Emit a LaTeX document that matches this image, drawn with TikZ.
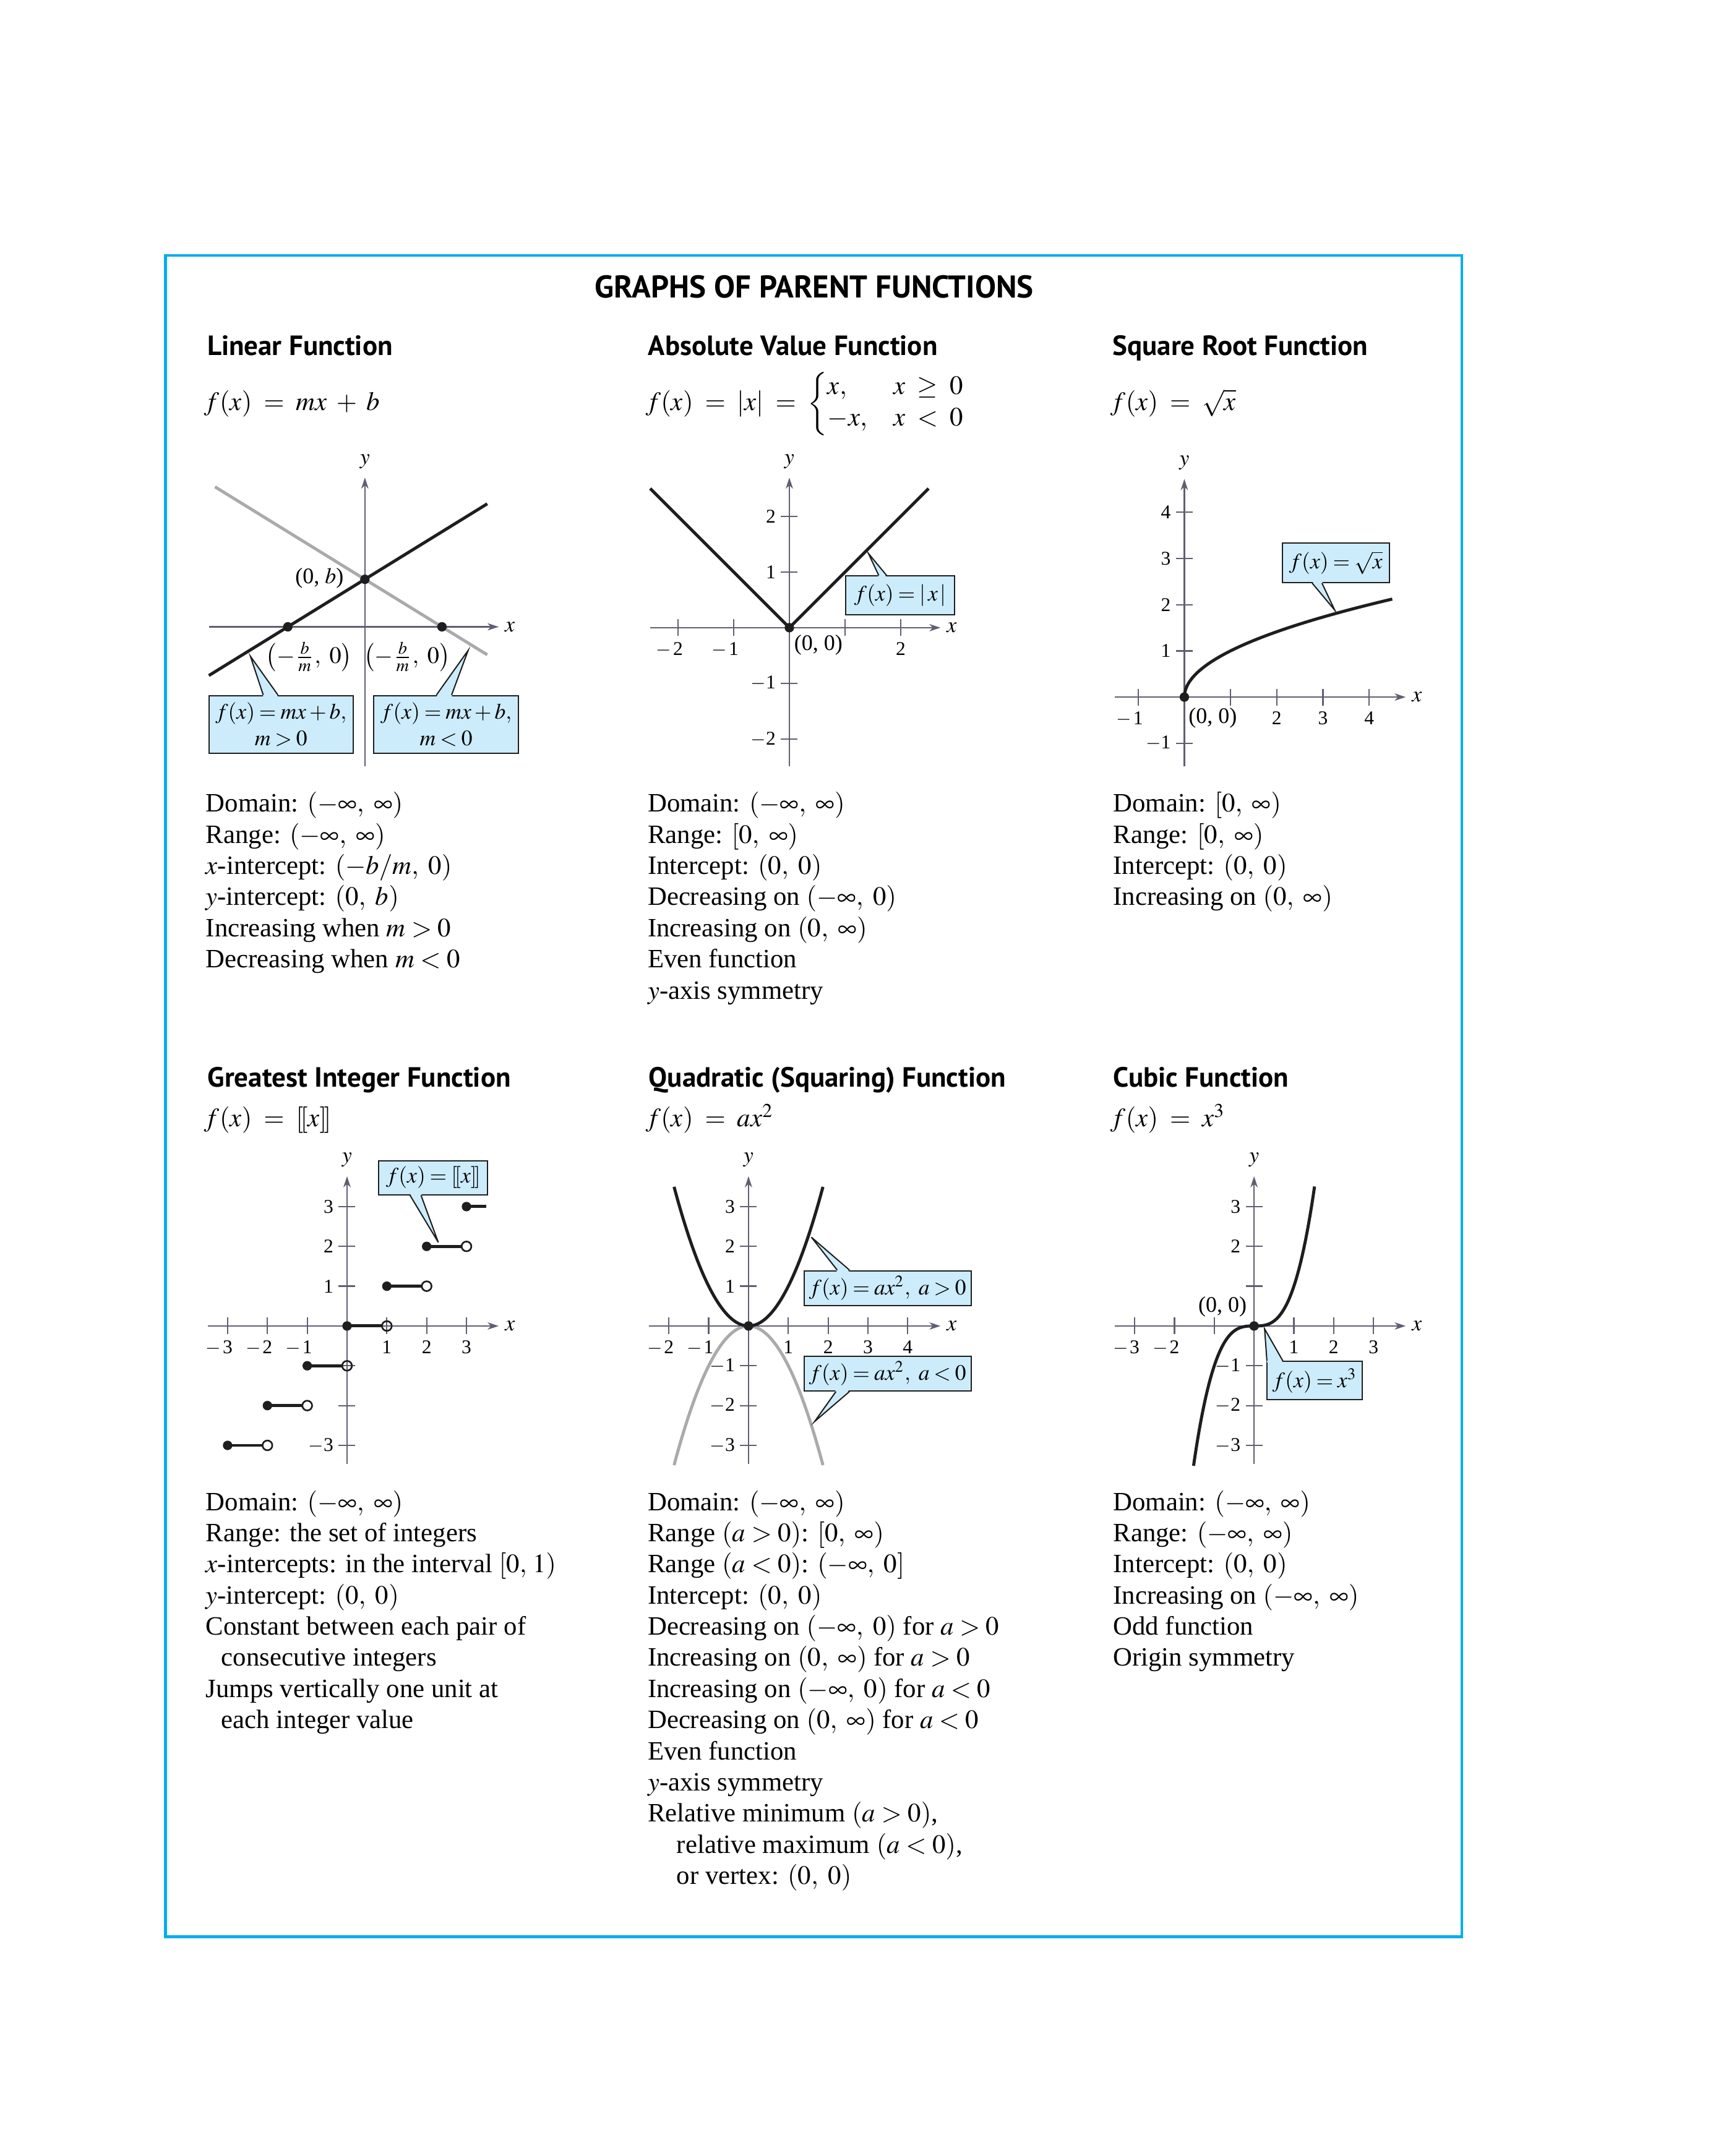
\documentclass[tikz,border=0pt]{standalone}
\usepackage{amsmath}
\usepackage{mathptmx}
\usepackage[no-math]{fontspec}
\setmainfont{Liberation Serif}
\newfontfamily\headfont{PT Sans}
\usetikzlibrary{arrows.meta,matrix}

\definecolor{framecol}{RGB}{0,174,239}
\definecolor{callfill}{RGB}{204,236,252}
\definecolor{axiscol}{RGB}{95,95,115}
\definecolor{greycol}{RGB}{170,170,170}
\definecolor{inkcol}{RGB}{30,30,30}

\tikzset{
  axisline/.style={draw=axiscol, line width=0.5pt},
  axisarrow/.style={axisline, -{Stealth[length=4pt,width=2.6pt,inset=1.2pt]}},
  axlab/.style={font=\fontsize{8}{9}\selectfont, inner sep=0.5pt},
  ticklab/.style={font=\fontsize{7}{8}\selectfont, inner sep=0pt},
  ptlab/.style={font=\fontsize{8}{9}\selectfont, inner sep=0pt},
  curve/.style={draw=inkcol, line width=1.1pt},
  greycurve/.style={draw=greycol, line width=1.1pt},
  dot/.style={fill=inkcol},
  opendot/.style={draw=inkcol, line width=0.6pt},
  callbox/.style={draw=inkcol, line width=0.45pt, fill=callfill, inner sep=0pt, align=center,
    font=\fontsize{7.9}{9.5}\selectfont},
  callline/.style={draw=inkcol, line width=0.45pt},
  heading/.style={font=\headfont\bfseries\fontsize{10}{12}\selectfont, anchor=base west, inner sep=0pt},
  formula/.style={font=\fontsize{9.5}{9.4}\selectfont, anchor=base west, inner sep=0pt},
  facts/.style={matrix of nodes, anchor=north west, inner sep=0pt, row sep=1.19pt,
    nodes={align=left, anchor=west, inner sep=0pt, text height=7.5pt, text depth=2.5pt,
      font=\fontsize{9.5}{11}\selectfont}},
}

\newcommand{\tightm}{\thickmuskip=3.5mu\relax\medmuskip=2.5mu\relax}
\newcommand{\mneg}[1]{\llap{$-$\kern0.6pt}#1}
\newcommand{\pfaxes}[5]{%
  \coordinate (#1xl) at (#2,0); \coordinate (#1xr) at (#3,0);
  \coordinate (#1yb) at (0,#4); \coordinate (#1yt) at (0,#5);
  \draw[axisarrow] (#1xl) -- (#1xr) node[axlab, right=1.5pt] (#1xn) {$x$};
  \draw[axisarrow] (#1yb) -- (#1yt) node[axlab, above=2.5pt] (#1yn) {$y$};}
\newcommand{\pfxticks}[1]{\foreach \t in {#1} \draw[axisline] (\t,0) ++(0pt,3pt) -- ++(0pt,-6pt);}
\newcommand{\pfyticks}[1]{\foreach \t in {#1} \draw[axisline] (0,\t) ++(3pt,0pt) -- ++(-6pt,0pt);}
\newcommand{\pfxlabs}[2]{\foreach \t/\l in {#2} \path (\t,0) ++(0pt,-5pt) node[ticklab, anchor=north] (#1x\t) {\l};}
\newcommand{\pfylabs}[2]{\foreach \t/\l in {#2} \path (0,\t) ++(-4.7pt,0pt) node[ticklab, anchor=east] (#1y\t) {\l};}
\newcommand{\pfpointer}[4]{%
  \fill[callfill] ([yshift=#4]#1) -- (#2) -- ([yshift=#4]#3) -- cycle;
  \draw[callline] (#1) -- (#2) -- (#3);}

\begin{document}
\begin{tikzpicture}[x=0.5pt, y=-0.5pt]
    \useasboundingbox (0,0) rectangle (1240,1549.33);
    \draw[framecol, line width=1pt] (118.9,183.6) rectangle (1050.2,1391.8);
    \node[font=\headfont\bfseries\fontsize{11.3}{13}\selectfont, anchor=base, inner sep=0pt] (title) at (585,213.8) {GRAPHS OF PARENT FUNCTIONS};

    \node[heading] (hlin) at (148.5,255.4) {Linear Function};
    \node[heading] (habs) at (465.3,255.4) {Absolute Value Function};
    \node[heading] (hsqr) at (799,255.4) {Square Root Function};
    \node[heading] (hint) at (148.8,781) {Greatest Integer Function};
    \node[heading] (hqua) at (465.7,781) {Quadratic (Squaring) Function};
    \node[heading] (hcub) at (799.5,781) {Cubic Function};

    \node[formula] (flin) at (146.5,294.8) {$f(x) \;=\; mx \;+\; b$};
    \node[formula] (fabs) at (463.5,294.8) {$f(x) \;=\; |x| \;=\; \begin{cases} x, & x \;\geq\; 0\\ -x, & x \;<\; 0\end{cases}$};
    \node[formula] (fsqr) at (797.5,294.8) {$f(x) \;=\; \sqrt{x}$};
    \node[formula] (fint) at (146.5,809.6) {$f(x) \;=\; [\![x]\!]$};
    \node[formula] (fqua) at (463.5,809.6) {$f(x) \;=\; ax^2$};
    \node[formula] (fcub) at (797.5,809.6) {$f(x) \;=\; x^3$};

    % linear
    \begin{scope}[shift={(262.15,450.44)}, x=0.5pt, y=0.5pt]
        \pfaxes{a}{-112.1}{96.1}{-100.1}{107.3}
        \draw[greycurve] (-107.7,100.6) -- (87.9,-20.1);
        \draw[curve] (-112.1,-35) -- (87.9,88.4);
        \fill[dot] (0,34.15) circle (1.7pt) (-55.36,0) circle (1.7pt) (55.36,0) circle (1.7pt);
        \node[ptlab, anchor=east] (ab) at (-14.9,35) {(0, $b$)};
        \node[ptlab, font=\fontsize{8.5}{9}\selectfont] (ax1) at (-40.1,-21.6) {$\left(-\frac{b}{m},\ 0\right)$};
        \node[ptlab, font=\fontsize{8.5}{9}\selectfont] (ax2) at (30.2,-21.6) {$\left(-\frac{b}{m},\ 0\right)$};
    \end{scope}

    % absolute value
    \begin{scope}[shift={(567.09,451.06)}, x=20pt, y=20pt]
        \pfaxes{b}{-2.504}{2.715}{-2.488}{2.697}
        \pfxticks{-2,-1,1,2}
        \pfyticks{-2,-1,1,2}
        \pfxlabs{b}{-2/\mneg2,-1/\mneg1,2/2}
        \pfylabs{b}{-2/$-$2,-1/$-$1,1/1,2/2}
        \draw[curve, line join=round] (-2.5,2.5) -- (0,0) -- (2.5,2.5);
        \fill[dot] (0,0) circle (1.7pt);
        \node[ptlab, anchor=west] (bo) at (0.079,-0.314) {(0, 0)};
    \end{scope}

    % square root
    \begin{scope}[shift={(850.86,500.92)}, x=16.6pt, y=16.6pt]
        \pfaxes{c}{-1.508}{4.79}{-1.495}{4.72}
        \pfxticks{-1,1,2,3,4}
        \pfyticks{-1,1,2,3,4}
        \pfxlabs{c}{-1/\mneg1,2/2,3/3,4/4}
        \pfylabs{c}{-1/$-$1,1/1,2/2,3/3,4/4}
        \draw[curve] plot[domain=0:2.1213, samples=60, smooth] ({\x*\x},\x);
        \fill[dot] (0,0) circle (1.7pt);
        \node[ptlab, anchor=west] (co) at (0.08,-0.454) {(0, 0)};
    \end{scope}

    % greatest integer
    \begin{scope}[shift={(249.32,952.86)}, x=14.3pt, y=14.3pt]
        \pfaxes{d}{-3.49}{3.81}{-3.471}{3.763}
        \pfxticks{-3,-2,-1,1,2,3}
        \pfyticks{-3,-2,-1,1,2,3}
        \pfxlabs{d}{-3/\mneg3,-2/\mneg2,-1/\mneg1,1/1,2/2,3/3}
        \pfylabs{d}{-3/$-$3,1/1,2/2,3/3}
        \foreach \k [evaluate=\k as \kk using int(\k+1)] in {-3,...,2} {
            \draw[curve] (\k,\k) -- ([xshift=-1.75pt]\kk,\k);
            \fill[dot] (\k,\k) circle (1.7pt);
            \draw[opendot] (\kk,\k) circle (1.75pt);
        }
        \draw[curve] (3,3) -- (3.5,3);
        \fill[dot] (3,3) circle (1.7pt);
    \end{scope}

    % quadratic
    \begin{scope}[shift={(537.74,952.86)}, x=14.3pt, y=14.3pt]
        \pfaxes{e}{-2.5}{4.824}{-3.471}{3.763}
        \pfxticks{-2,-1,1,2,3,4}
        \pfyticks{-3,-2,-1,1,2,3}
        \pfxlabs{e}{-2/\mneg2,-1/\mneg1,1/1,2/2,3/3,4/4}
        \pfylabs{e}{-3/$-$3,-2/$-$2,-1/$-$1,1/1,2/2,3/3}
        \draw[greycurve] plot[domain=-1.87:1.87, samples=60, smooth] (\x,{-\x*\x});
        \draw[curve] plot[domain=-1.87:1.87, samples=60, smooth] (\x,{\x*\x});
        \fill[dot] (0,0) circle (1.7pt);
    \end{scope}

    % cubic
    \begin{scope}[shift={(900.95,952.86)}, x=14.3pt, y=14.3pt]
        \pfaxes{f}{-3.5}{3.81}{-3.471}{3.763}
        \pfxticks{-3,-2,-1,1,2,3}
        \pfyticks{-3,-2,-1,1,2,3}
        \pfxlabs{f}{-3/\mneg3,-2/\mneg2,1/1,2/2,3/3}
        \pfylabs{f}{-3/$-$3,-2/$-$2,-1/$-$1,2/2,3/3}
        \draw[curve] plot[domain=-1.52:1.52, samples=80, smooth] (\x,{\x*\x*\x});
        \fill[dot] (0,0) circle (1.7pt);
        \node[ptlab, anchor=east] (fo) at (-0.172,0.485) {(0, 0)};
    \end{scope}

    % callouts
    \node[callbox, minimum width=51.85pt, minimum height=20.64pt] (bA) at (201.88,520.5) {$\tightm f(x) = mx + b,$\\$\tightm m > 0$};
    \coordinate (tA) at (179.9,471.6);
    \coordinate (bA1) at ([xshift=19.77pt]bA.north west);
    \coordinate (bA2) at ([xshift=25.04pt]bA.north west);
    \pfpointer{bA1}{tA}{bA2}{-0.6pt}

    \node[callbox, minimum width=51.85pt, minimum height=20.64pt] (bB) at (320.5,520.5) {$\tightm f(x) = mx + b,$\\$\tightm m < 0$};
    \coordinate (tB) at (336.31,467.4);
    \coordinate (bB1) at ([xshift=22.67pt]bB.north west);
    \coordinate (bB2) at ([xshift=28.12pt]bB.north west);
    \pfpointer{bB1}{tB}{bB2}{-0.6pt}

    \node[callbox, minimum width=39.1pt, minimum height=13.83pt] (bC) at (646.79,427.8) {$\tightm f(x) = |\,x\,|$};
    \coordinate (tC) at (623.85,397.65);
    \coordinate (bC1) at ([xshift=12.04pt]bC.north west);
    \coordinate (bC2) at ([xshift=14.86pt]bC.north west);
    \pfpointer{bC1}{tC}{bC2}{-0.6pt}

    \node[callbox, minimum width=38.49pt, minimum height=14.14pt] (bD) at (959.65,404.45) {$\tightm f(x) = \sqrt{x}$};
    \coordinate (tD) at (958.94,438.5);
    \coordinate (bD1) at ([xshift=10.99pt]bD.south west);
    \coordinate (bD2) at ([xshift=14.5pt]bD.south west);
    \pfpointer{bD1}{tD}{bD2}{0.6pt}

    \node[callbox, minimum width=39.1pt, minimum height=12.23pt] (bE) at (311.26,846.26) {$\tightm f(x) = [\![x]\!]$};
    \coordinate (tE) at (314.87,892.73);
    \coordinate (bE1) at ([xshift=11.43pt]bE.south west);
    \coordinate (bE2) at ([xshift=15.38pt]bE.south west);
    \pfpointer{bE1}{tE}{bE2}{0.6pt}

    \node[callbox, minimum width=60pt, minimum height=12.64pt] (bF) at (637.65,925.75) {$\tightm f(x) = ax^2,\ a > 0$};
    \coordinate (tF) at (582.91,889.06);
    \coordinate (bF1) at ([xshift=12.13pt]bF.north west);
    \coordinate (bF2) at ([xshift=16.52pt]bF.north west);
    \pfpointer{bF1}{tF}{bF2}{-0.6pt}

    \node[callbox, minimum width=60pt, minimum height=12.43pt] (bG) at (637.65,987.1) {$\tightm f(x) = ax^2,\ a < 0$};
    \coordinate (tG) at (585.19,1021.55);
    \coordinate (bG1) at ([xshift=11.69pt]bG.south west);
    \coordinate (bG2) at ([xshift=16.52pt]bG.south west);
    \pfpointer{bG1}{tG}{bG2}{0.6pt}

    \node[callbox, minimum width=34.27pt, minimum height=13.76pt] (bH) at (944.53,992.09) {$\tightm f(x) = x^3$};
    \coordinate (tH) at (908.5,954.9);
    \coordinate (bH1) at ([xshift=0.18pt]bH.north west);
    \coordinate (bH2) at ([xshift=5.89pt]bH.north west);
    \pfpointer{bH1}{tH}{bH2}{-0.6pt}

    % properties
    \matrix[facts] (plin) at (147.5,568.1) {
        Domain: $(-\infty,\ \infty)$ \\
        Range: $(-\infty,\ \infty)$ \\
        $x$-intercept: $(-b/m,\ 0)$ \\
        $y$-intercept: $(0,\ b)$ \\
        Increasing when $m > 0$ \\
        Decreasing when $m < 0$ \\
    };
    \matrix[facts] (pabs) at (465,568.1) {
        Domain: $(-\infty,\ \infty)$ \\
        Range: $[0,\ \infty)$ \\
        Intercept: $(0,\ 0)$ \\
        Decreasing on $(-\infty,\ 0)$ \\
        Increasing on $(0,\ \infty)$ \\
        Even function \\
        $y$-axis symmetry \\
    };
    \matrix[facts] (psqr) at (799.4,568.1) {
        Domain: $[0,\ \infty)$ \\
        Range: $[0,\ \infty)$ \\
        Intercept: $(0,\ 0)$ \\
        Increasing on $(0,\ \infty)$ \\
    };
    \matrix[facts] (pint) at (147.5,1070) {
        Domain: $(-\infty,\ \infty)$ \\
        Range: the set of integers \\
        $x$-intercepts: in the interval $[0,\,1)$ \\
        $y$-intercept: $(0,\ 0)$ \\
        Constant between each pair of \\
        \hspace*{5.6pt}consecutive integers \\
        Jumps vertically one unit at \\
        \hspace*{5.6pt}each integer value \\
    };
    \matrix[facts] (pqua) at (465,1070) {
        Domain: $(-\infty,\ \infty)$ \\
        Range $(a > 0)$: $[0,\ \infty)$ \\
        Range $(a < 0)$: $(-\infty,\ 0]$ \\
        Intercept: $(0,\ 0)$ \\
        Decreasing on $(-\infty,\ 0)$ for $a > 0$ \\
        Increasing on $(0,\ \infty)$ for $a > 0$ \\
        Increasing on $(-\infty,\ 0)$ for $a < 0$ \\
        Decreasing on $(0,\ \infty)$ for $a < 0$ \\
        Even function \\
        $y$-axis symmetry \\
        Relative minimum $(a > 0)$, \\
        \hspace*{10.4pt}relative maximum $(a < 0)$, \\
        \hspace*{10.4pt}or vertex: $(0,\ 0)$ \\
    };
    \matrix[facts] (pcub) at (799.4,1070) {
        Domain: $(-\infty,\ \infty)$ \\
        Range: $(-\infty,\ \infty)$ \\
        Intercept: $(0,\ 0)$ \\
        Increasing on $(-\infty,\ \infty)$ \\
        Odd function \\
        Origin symmetry \\
    };
\end{tikzpicture}
\end{document}
